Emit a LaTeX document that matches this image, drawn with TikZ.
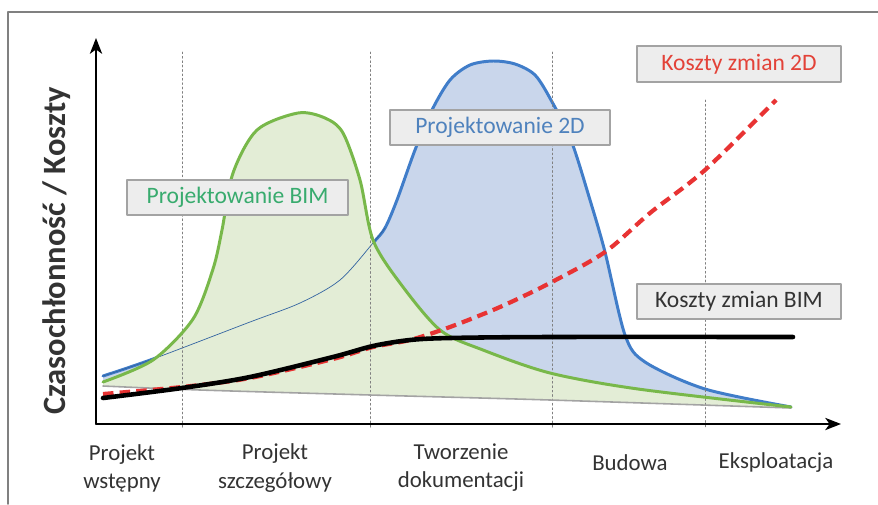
\documentclass[tikz,border=0pt]{standalone}
\usepackage{fontspec}
\setmainfont{Carlito}
\setsansfont{Carlito}
\usepackage{tikz}
\usetikzlibrary{arrows.meta}
\definecolor{ggbbqq}{rgb}{0.47,0.72,0.29}
\definecolor{eeffdd}{rgb}{0.89,0.93,0.84}
\definecolor{qqggcc}{rgb}{0.25,0.49,0.79}
\definecolor{ccddee}{rgb}{0.79,0.84,0.92}
\definecolor{eeqqqq}{rgb}{0.91,0.20,0.20}
\definecolor{qqaagg}{rgb}{0.22,0.67,0.43}
\definecolor{qqrrbb}{rgb}{0.31,0.51,0.74}
\definecolor{ddssqq}{rgb}{0.89,0.26,0.22}
\definecolor{eeeeee}{rgb}{0.93,0.93,0.93}
\definecolor{aaaaaa}{rgb}{0.64,0.64,0.64}
\definecolor{sqsqsq}{rgb}{0.20,0.20,0.20}
\definecolor{ububub}{rgb}{0.50,0.50,0.50}

\begin{document}
\begin{tikzpicture}[line cap=round,line join=round,>={Stealth[length=9pt,width=7pt,inset=2.5pt]},x=0.02cm,y=-0.02cm,
  labelbox/.style={draw=aaaaaa,fill=eeeeee,line width=0.8pt,minimum height=0.7cm,inner sep=0pt,font=\fontsize{13.4}{15}\selectfont},
  phase/.style={align=center,text=sqsqsq,font=\fontsize{13}{16}\selectfont}]
\useasboundingbox (0,0) rectangle (878,504);
\draw [color=ububub, line width=1pt] (8,504) -- (8,12) -- (878,12);
\coordinate (O) at (96,424);
\coordinate (ytop) at (96,38);
\coordinate (xend) at (841,424);
% fills
\fill [color=ccddee] plot[smooth] coordinates {(103,376) (153,359) (250,322) (300,303) (340,280) (373,243) (385,228) (397,200) (415,150) (432,110) (450,80) (470,65) (493,61) (515,64) (535,75) (551,100) (571,140) (590,200) (605,252) (625,335) (645,362) (705,389) (791,407)}
  -- plot[smooth] coordinates {(791,408) (550,400) (370,395) (200,390) (103,386)} -- cycle;
\draw [color=qqggcc, line width=1.7pt] plot[smooth] coordinates {(103,376) (153,359) (250,322) (300,303) (340,280) (373,243) (385,228) (397,200) (415,150) (432,110) (450,80) (470,65) (493,61) (515,64) (535,75) (551,100) (571,140) (590,200) (605,252) (625,335) (645,362) (705,389) (791,407)};
\fill [color=eeffdd] plot[smooth] coordinates {(103,382) (153,360) (193,319) (213,269) (222,230) (233,173) (257,130) (298,113) (325,118) (343,133) (360,180) (373,240) (400,283) (440,330) (483,350) (550,373) (638,389) (791,407)}
  -- plot[smooth] coordinates {(791,408) (550,400) (370,395) (200,390) (103,386)} -- cycle;
\draw [color=qqggcc!80!black, line width=0.4pt] plot[smooth] coordinates {(103,376) (153,359) (250,322) (300,303) (340,280) (373,243) (385,228)};
% phases
\foreach \xp/\yt in {182/52,370/52,552/52,705/100}
  \draw [color=ububub, line width=0.5pt, dash pattern=on 1pt off 1.5pt] (\xp,\yt) -- (\xp,428);
% axes
\draw [->, line width=1pt] (O) -- (ytop);
\draw [->, line width=1pt] (O) -- (xend);
% curves
\draw [color=aaaaaa, line width=0.9pt] plot[smooth] coordinates {(103,386) (200,390) (370,395) (550,400) (791,408)};
\draw [color=ggbbqq, line width=1.7pt] plot[smooth] coordinates {(103,382) (153,360) (193,319) (213,269) (222,230) (233,173) (257,130) (298,113) (325,118) (343,133) (360,180) (373,240) (400,283) (440,330) (483,350) (550,373) (638,389) (791,407)};
\draw [color=eeqqqq, line width=2.4pt, line cap=butt, dash pattern=on 6pt off 3.5pt] plot[smooth] coordinates {(103,394) (182,387) (250,378) (333,359) (373,347) (410,340) (450,327) (500,307) (550,283) (605,252) (650,213) (705,170) (776,100)};
\draw [color=black, line width=2.6pt] plot[smooth] coordinates {(103,398) (182,388) (250,377) (333,357) (373,346) (410,340) (450,338) (550,337) (793,337)};
% labels
\node [labelbox, minimum width=4.42cm, text=qqaagg] (bim) at (237.5,197.5) {Projektowanie BIM};
\node [labelbox, minimum width=4.4cm, text=qqrrbb] (dwad) at (500,127.5) {Projektowanie 2D};
\node [labelbox, minimum width=4.08cm, minimum height=0.72cm, text=ddssqq] (k2d) at (739,64) {Koszty zmian 2D};
\node [labelbox, minimum width=4.08cm, text=sqsqsq] (kbim) at (739,301.5) {Koszty zmian BIM};
\node [rotate=90, font=\bfseries\fontsize{18.5}{20}\selectfont, text=sqsqsq] (ylab) at (57,251) {Czasochłonność / Koszty};
\node [phase] (p1) at (122,468) {Projekt\\wstępny};
\node [phase] (p2) at (275,468) {Projekt\\szczegółowy};
\node [phase] (p3) at (461,468) {Tworzenie\\dokumentacji};
\node [phase] (p4) at (630,463) {Budowa};
\node [phase] (p5) at (776,463) {Eksploatacja};
\end{tikzpicture}
\end{document}
